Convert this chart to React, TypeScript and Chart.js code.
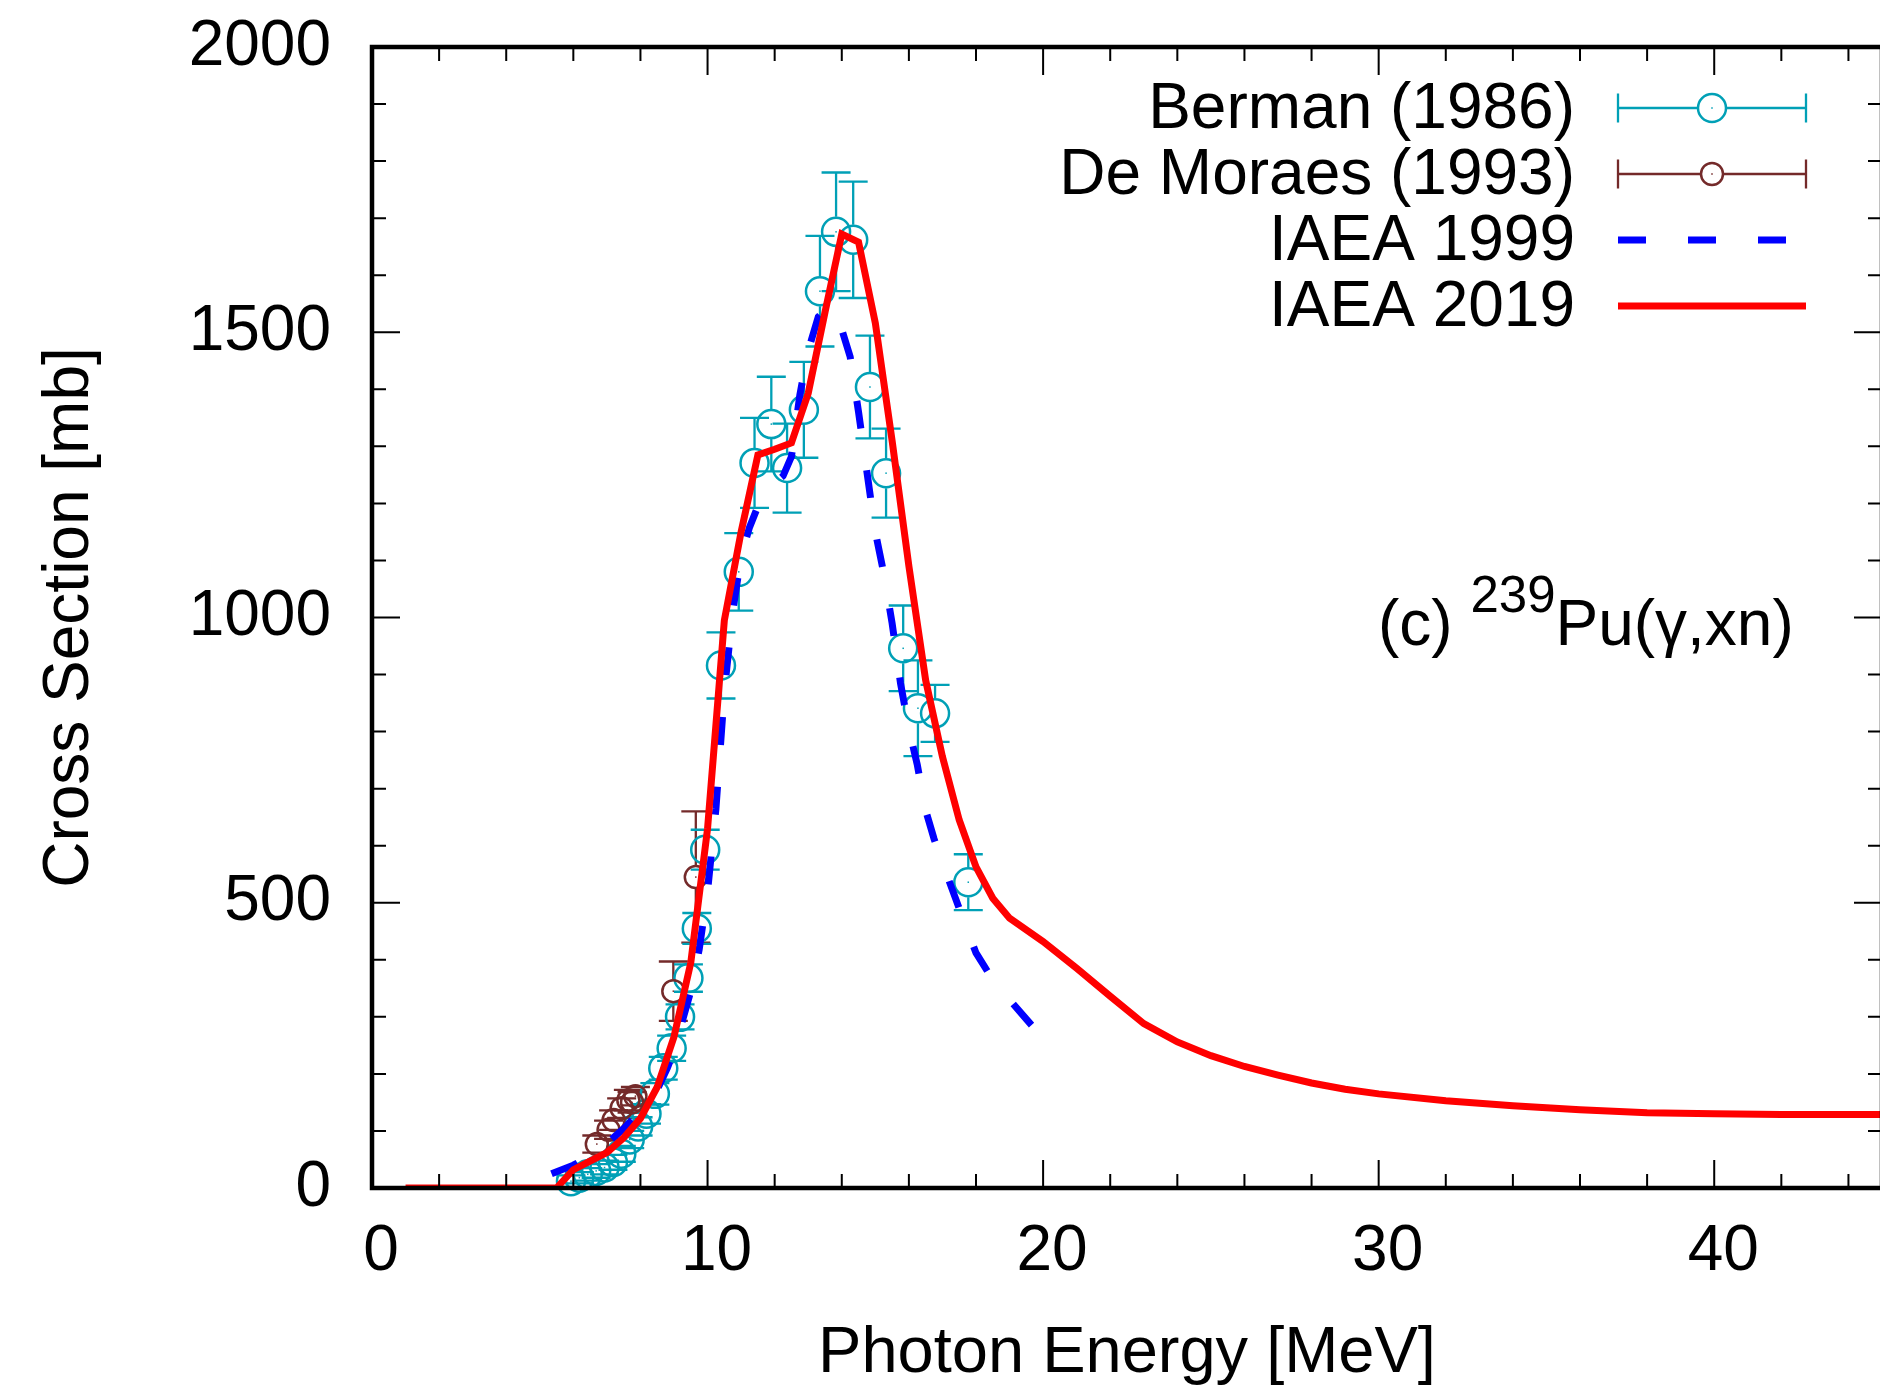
import React, { useEffect, useRef } from "react";
import { Chart, registerables } from "chart.js";

Chart.register(...registerables);

const FONT = '"Liberation Sans", Arial, Helvetica, sans-serif';

// ---------- axis ticks ----------
const xMajorTicks = [0, 10, 20, 30, 40];
const yMajorTicks = [0, 500, 1000, 1500, 2000];
const xMinorStep = 2;
const yMinorStep = 100;
const xRange = [0, 45];
const yRange = [0, 2000];

// ---------- IAEA 2019 (red solid) ----------
const iaea2019X = [1, 5.5, 6, 6.5, 7, 7.5, 8, 8.5, 9, 9.5, 10, 10.5, 11, 11.5, 12, 12.5, 13, 13.5, 14, 14.5, 15, 15.5, 16, 16.5, 17, 17.5, 18, 18.5, 19, 20, 21, 22, 23, 24, 25, 26, 27, 28, 29, 30, 32, 34, 36, 38, 40, 42, 45];
const iaea2019Y = [0, 0, 32, 47, 62, 88, 122, 177, 265, 395, 630, 995, 1150, 1285, 1295, 1306, 1393, 1535, 1672, 1658, 1516, 1310, 1090, 890, 756, 645, 563, 508, 473, 432, 385, 336, 288, 256, 232, 213, 198, 184, 173, 165, 153, 144, 137, 132, 130, 129, 129];

// ---------- IAEA 1999 (blue dashed) ----------
const iaea1999X = [5.35, 6, 6.5, 7, 7.5, 8, 8.5, 8.8, 9, 9.25, 9.5, 9.75, 10, 10.25, 10.5, 10.75, 11, 11.25, 11.5, 12, 12.25, 12.5, 12.75, 13, 13.3, 13.6, 14, 14.25, 14.5, 14.75, 15, 15.25, 15.5, 15.75, 16, 16.25, 16.5, 16.75, 17, 17.5, 18, 18.5, 19, 19.5, 20];
const iaea1999Y = [25, 40, 56, 78, 104, 135, 172, 210, 240, 293, 345, 418, 520, 665, 870, 1010, 1108, 1158, 1195, 1235, 1248, 1282, 1390, 1468, 1527, 1545, 1505, 1457, 1360, 1255, 1150, 1078, 990, 885, 805, 742, 662, 612, 570, 490, 412, 365, 330, 296, 262];

// ---------- Berman (1986) ----------
const bermanX = [5.93, 6.18, 6.43, 6.68, 6.93, 7.18, 7.43, 7.68, 7.93, 8.18, 8.43, 8.68, 8.93, 9.18, 9.43, 9.68, 9.93, 10.4, 10.93, 11.4, 11.9, 12.37, 12.87, 13.35, 13.83, 14.34, 14.84, 15.32, 15.83, 16.27, 16.78, 17.77];
const bermanY = [12, 18, 24, 30, 36, 45, 60, 85, 108, 130, 165, 210, 245, 300, 368, 455, 593, 916, 1080, 1271, 1339, 1262, 1364, 1572, 1676, 1662, 1404, 1253, 946, 841, 832, 536];
const bermanErr = [10, 10, 11, 12, 12, 13, 14, 15, 16, 17, 19, 20, 22, 22, 24, 27, 35, 58, 68, 79, 83, 78, 84, 97, 104, 102, 90, 78, 75, 84, 50, 49];

// ---------- De Moraes (1993) ----------
const demoraesX = [6.7, 7.05, 7.2, 7.44, 7.64, 7.75, 7.85, 8.98, 9.65];
const demoraesY = [77, 102, 119, 140, 154, 150, 161, 345, 545];
const demoraesErr = [15, 16, 17, 17, 18, 18, 16, 52, 115];

const CYAN = "#00a0b6";
const BROWN = "#742a2a";
const BLUE = "#0000ff";
const RED = "#ff0000";

const toPts = (xs: number[], ys: number[]) => xs.map((x, i) => ({ x, y: ys[i] }));

const CAP = 14.5;

function drawErrorBar(ctx: CanvasRenderingContext2D, px: number, py: number, top: number, bot: number, r: number) {
  ctx.beginPath();
  if (py - r > top) {
    ctx.moveTo(px, top);
    ctx.lineTo(px, py - r);
  }
  if (py + r < bot) {
    ctx.moveTo(px, py + r);
    ctx.lineTo(px, bot);
  }
  ctx.moveTo(px - CAP, top);
  ctx.lineTo(px + CAP, top);
  ctx.moveTo(px - CAP, bot);
  ctx.lineTo(px + CAP, bot);
  ctx.stroke();
  ctx.fillRect(px - 0.75, py - 0.75, 1.5, 1.5);
}

const errorBarPlugin = {
  id: "errorBars",
  beforeDatasetsDraw(chart: any) {
    const { ctx } = chart;
    const xs = chart.scales.x;
    const ys = chart.scales.y;
    ctx.save();
    chart.data.datasets.forEach((ds: any) => {
      if (!ds.errors) return;
      ctx.strokeStyle = ds.borderColor;
      ctx.fillStyle = ds.borderColor;
      ctx.lineWidth = 2.3;
      ds.data.forEach((p: any, i: number) => {
        const e = ds.errors[i];
        const px = xs.getPixelForValue(p.x);
        const py = ys.getPixelForValue(p.y);
        const top = ys.getPixelForValue(p.y + e);
        const bot = ys.getPixelForValue(p.y - e);
        drawErrorBar(ctx, px, py, top, bot, ds.pointRadius + 1);
      });
    });
    ctx.restore();
  },
};

const framePlugin = {
  id: "frame",
  afterDraw(chart: any) {
    const { ctx, chartArea: a } = chart;
    const xs = chart.scales.x;
    const ys = chart.scales.y;
    const MAJ = 28;
    const MIN = 14;
    ctx.save();
    ctx.strokeStyle = "#000";
    ctx.lineWidth = 2;
    ctx.beginPath();
    for (let v = xRange[0]; v <= xRange[1] + 1e-9; v += xMinorStep) {
      const len = xMajorTicks.includes(v) ? MAJ : MIN;
      const p = xs.getPixelForValue(v);
      ctx.moveTo(p, a.bottom);
      ctx.lineTo(p, a.bottom - len);
      ctx.moveTo(p, a.top);
      ctx.lineTo(p, a.top + len);
    }
    for (let v = yRange[0]; v <= yRange[1] + 1e-9; v += yMinorStep) {
      const len = yMajorTicks.includes(v) ? MAJ : MIN;
      const p = ys.getPixelForValue(v);
      ctx.moveTo(a.left, p);
      ctx.lineTo(a.left + len, p);
      ctx.moveTo(a.right, p);
      ctx.lineTo(a.right - len, p);
    }
    ctx.stroke();
    ctx.lineWidth = 4.5;
    ctx.strokeRect(a.left, a.top, a.right - a.left, a.bottom - a.top);

    // ---------- legend ----------
    const textRight = 1575;
    const sx0 = 1618;
    const sx1 = 1806;
    const sxm = 1712;
    const rows = [108, 174, 240, 306];
    ctx.fillStyle = "#000";
    ctx.font = `64px ${FONT}`;
    ctx.textAlign = "right";
    ctx.textBaseline = "middle";
    const labels = ["Berman (1986)", "De Moraes (1993)", "IAEA 1999", "IAEA 2019"];
    labels.forEach((t, i) => ctx.fillText(t, textRight, rows[i] + 2));

    const legendErr = (color: string, r: number, yy: number) => {
      ctx.strokeStyle = color;
      ctx.fillStyle = color;
      ctx.lineWidth = 2.3;
      ctx.beginPath();
      ctx.moveTo(sx0, yy);
      ctx.lineTo(sxm - r - 1, yy);
      ctx.moveTo(sxm + r + 1, yy);
      ctx.lineTo(sx1, yy);
      ctx.moveTo(sx0, yy - CAP);
      ctx.lineTo(sx0, yy + CAP);
      ctx.moveTo(sx1, yy - CAP);
      ctx.lineTo(sx1, yy + CAP);
      ctx.stroke();
      ctx.lineWidth = 2.5;
      ctx.beginPath();
      ctx.arc(sxm, yy, r, 0, Math.PI * 2);
      ctx.stroke();
      ctx.fillRect(sxm - 0.75, yy - 0.75, 1.5, 1.5);
    };
    legendErr(CYAN, 14, rows[0]);
    legendErr(BROWN, 11, rows[1]);

    ctx.lineWidth = 7;
    ctx.lineCap = "butt";
    ctx.strokeStyle = BLUE;
    ctx.setLineDash([28, 42]);
    ctx.beginPath();
    ctx.moveTo(sx0, rows[2]);
    ctx.lineTo(sx1, rows[2]);
    ctx.stroke();
    ctx.setLineDash([]);
    ctx.strokeStyle = RED;
    ctx.beginPath();
    ctx.moveTo(sx0, rows[3]);
    ctx.lineTo(sx1, rows[3]);
    ctx.stroke();

    // ---------- annotation ----------
    ctx.fillStyle = "#000";
    ctx.textAlign = "left";
    ctx.textBaseline = "alphabetic";
    let tx = 1378;
    const base = 645;
    ctx.font = `64px ${FONT}`;
    ctx.fillText("(c) ", tx, base);
    tx += ctx.measureText("(c) ").width;
    ctx.font = `51px ${FONT}`;
    ctx.fillText("239", tx, base - 33);
    tx += ctx.measureText("239").width;
    ctx.font = `64px ${FONT}`;
    ctx.fillText("Pu(\u03b3,xn)", tx, base);

    ctx.restore();
  },
};

export default function App() {
  const ref = useRef<HTMLCanvasElement | null>(null);

  useEffect(() => {
    if (!ref.current) return;
    const canvasW = 1900;
    const chart = new Chart(ref.current, {
      type: "scatter",
      data: {
        datasets: [
          {
            label: "IAEA 2019",
            data: toPts(iaea2019X, iaea2019Y),
            showLine: true,
            borderColor: RED,
            backgroundColor: RED,
            borderWidth: 7,
            pointRadius: 0,
            tension: 0,
            clip: 0,
            order: 1,
          } as any,
          {
            label: "IAEA 1999",
            data: toPts(iaea1999X, iaea1999Y),
            showLine: true,
            borderColor: BLUE,
            backgroundColor: BLUE,
            borderWidth: 7,
            borderDash: [28, 42],
            pointRadius: 0,
            tension: 0,
            clip: 0,
            order: 2,
          } as any,
          {
            label: "De Moraes (1993)",
            data: toPts(demoraesX, demoraesY),
            errors: demoraesErr,
            showLine: false,
            borderColor: BROWN,
            backgroundColor: "rgba(0,0,0,0)",
            borderWidth: 2.5,
            pointRadius: 11,
            pointHoverRadius: 11,
            clip: false,
            order: 3,
          } as any,
          {
            label: "Berman (1986)",
            data: toPts(bermanX, bermanY),
            errors: bermanErr,
            showLine: false,
            borderColor: CYAN,
            backgroundColor: "rgba(0,0,0,0)",
            borderWidth: 2.5,
            pointRadius: 14,
            pointHoverRadius: 14,
            clip: false,
            order: 4,
          } as any,
        ],
      },
      options: {
        responsive: false,
        devicePixelRatio: 1,
        animation: false,
        layout: { padding: { left: 0, top: 47, right: canvasW - 1882, bottom: 0 } },
        plugins: {
          legend: { display: false },
          tooltip: { enabled: false },
        },
        events: [],
        scales: {
          x: {
            type: "linear",
            min: xRange[0],
            max: xRange[1],
            grid: { display: false, drawTicks: false },
            border: { display: false },
            ticks: {
              color: "#000",
              font: { family: FONT, size: 64 },
              padding: 26,
              labelOffset: 9,
              maxRotation: 0,
              autoSkip: false,
              callback: (v: any) => String(v),
            },
            title: {
              display: true,
              text: "Photon Energy [MeV]",
              color: "#000",
              font: { family: FONT, size: 65, lineHeight: 1.0 },
              padding: { top: 0, bottom: 0 },
            },
            afterBuildTicks: (s: any) => {
              s.ticks = xMajorTicks.map((v) => ({ value: v }));
            },
            afterFit: (s: any) => {
              s.height = 199;
              s.paddingLeft = 0;
              s.paddingRight = 0;
              s.paddingTop = 0;
              s.paddingBottom = 0;
            },
          },
          y: {
            type: "linear",
            min: yRange[0],
            max: yRange[1],
            grid: { display: false, drawTicks: false },
            border: { display: false },
            ticks: {
              color: "#000",
              font: { family: FONT, size: 64 },
              padding: 41,
              autoSkip: false,
              callback: (v: any) => String(v),
            },
            title: {
              display: true,
              text: "Cross Section [mb]",
              color: "#000",
              font: { family: FONT, size: 64 },
              padding: { top: 32, bottom: 0 },
            },
            afterBuildTicks: (s: any) => {
              s.ticks = yMajorTicks.map((v) => ({ value: v }));
            },
            afterFit: (s: any) => {
              s.width = 372;
              s.paddingLeft = 0;
              s.paddingRight = 0;
              s.paddingTop = 0;
              s.paddingBottom = 0;
            },
          },
        },
      } as any,
      plugins: [errorBarPlugin, framePlugin],
    });
    return () => chart.destroy();
  }, []);

  return (
    <div
      style={{
        position: "fixed",
        left: 0,
        top: 0,
        width: 1880,
        height: 1387,
        overflow: "hidden",
        background: "#fff",
      }}
    >
      <canvas ref={ref} width={1900} height={1387} style={{ display: "block", width: 1900, height: 1387 }} />
    </div>
  );
}
